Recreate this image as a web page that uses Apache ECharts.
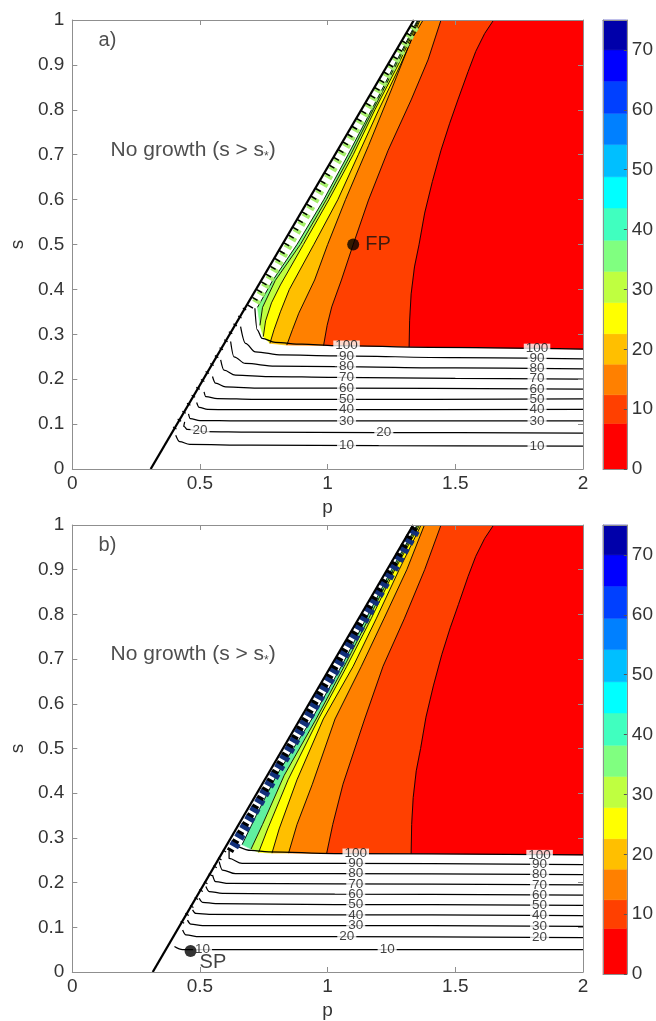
<!DOCTYPE html>
<html>
<head>
<meta charset="utf-8">
<script src="https://cdn.jsdelivr.net/npm/echarts@6.0.0/dist/echarts.min.js"></script>
<style>
html, body { margin: 0; padding: 0; background: #fff; }
#chart { width: 656px; height: 1021px; }
</style>
</head>
<body>
<div id="chart"></div>
<script>
// ---- axis ticks ----
const pTicks = [0, 0.5, 1, 1.5, 2];
const sTicks = [0, 0.1, 0.2, 0.3, 0.4, 0.5, 0.6, 0.7, 0.8, 0.9, 1];
const cbTicks = [0, 10, 20, 30, 40, 50, 60, 70];

// ---- colour scale: band edges and fills (low to high) ----
const cbEdges = [0, 7.6, 12.4, 17.5, 22.6, 27.8, 33, 38.2, 43.6, 48.8, 54.2, 59.4, 64.8, 70, 75];
const cbColors = ['#ff0000', '#ff4000', '#ff8000', '#ffbf00', '#ffff00', '#bfff40', '#80ff80',
                  '#40ffbf', '#00ffff', '#00bfff', '#0080ff', '#0040ff', '#0000ff', '#0000aa'];

// ---- s = s* line (edge of the no-growth region), [p, s] ----
const edgeA = [[0.307, 0], [1.338, 1]];
const edgeB = [[0.315, 0], [1.335, 1]];

// ---- panel a: filled contour boundaries, [p, s] ----
const fringeEdgeA = [[0.676, 0.358], [1.338, 1]];
const lgA  = [[0.725, 0.36], [0.785, 0.42], [0.88, 0.5], [0.985, 0.6], [1.08, 0.7], [1.172, 0.8], [1.262, 0.9], [1.352, 1.0]];
const lygA = [[0.735, 0.32], [0.745, 0.36], [0.795, 0.42], [0.893, 0.5], [0.995, 0.6], [1.09, 0.7], [1.178, 0.8], [1.268, 0.9], [1.355, 1.0]];
const lyA  = [[0.748, 0.295], [0.757, 0.33], [0.78, 0.37], [0.815, 0.41], [0.905, 0.5], [1.005, 0.6], [1.10, 0.7], [1.185, 0.8], [1.276, 0.9], [1.358, 1.0]];
const l20A = [[0.774, 0.28], [0.79, 0.31], [0.815, 0.35], [0.85, 0.40], [0.946, 0.5], [1.04, 0.6], [1.12, 0.7], [1.20, 0.8], [1.285, 0.9], [1.362, 1.0]];
const l15A = [[0.840, 0.276], [0.862, 0.31], [0.887, 0.347], [0.949, 0.421], [1.0, 0.5], [1.07, 0.6], [1.16, 0.72], [1.249, 0.844], [1.327, 0.955], [1.374, 1.0]];
const l10A = [[0.984, 0.275], [0.998, 0.32], [1.016, 0.361], [1.054, 0.421], [1.1, 0.5], [1.16, 0.599], [1.237, 0.71], [1.327, 0.822], [1.393, 0.911], [1.444, 1.0]];
const l5A  = [[1.319, 0.272], [1.321, 0.33], [1.327, 0.39], [1.34, 0.45], [1.358, 0.5], [1.38, 0.57], [1.41, 0.64], [1.444, 0.71], [1.478, 0.77],
              [1.51, 0.822], [1.55, 0.885], [1.58, 0.93], [1.615, 0.97], [1.65, 1.0]];
const rightA = [[2, 0.267], [2, 1]];

// ---- panel b: filled contour boundaries, [p, s] ----
const fringeEdgeB = [[0.600, 0.28], [1.335, 1]];
const lgB  = [[0.665, 0.285], [0.72, 0.35], [0.80, 0.44], [0.938, 0.566], [1.054, 0.684], [1.15, 0.79], [1.25, 0.9], [1.350, 1.0]];
const lygB = [[0.70, 0.275], [0.745, 0.33], [0.83, 0.44], [0.955, 0.566], [1.065, 0.684], [1.16, 0.79], [1.257, 0.9], [1.354, 1.0]];
const lyB  = [[0.730, 0.268], [0.765, 0.32], [0.845, 0.43], [0.964, 0.566], [1.075, 0.684], [1.17, 0.79], [1.263, 0.9], [1.360, 1.0]];
const l20B = [[0.782, 0.266], [0.81, 0.32], [0.88, 0.43], [0.983, 0.566], [1.10, 0.684], [1.19, 0.79], [1.28, 0.9], [1.366, 1.0]];
const l15B = [[0.847, 0.266], [0.88, 0.33], [0.94, 0.42], [1.029, 0.566], [1.132, 0.684], [1.22, 0.79], [1.31, 0.9], [1.379, 1.0]];
const l10B = [[0.996, 0.265], [1.02, 0.33], [1.06, 0.42], [1.145, 0.566], [1.217, 0.684], [1.30, 0.79], [1.38, 0.9], [1.444, 1.0]];
const l5B  = [[1.327, 0.265], [1.329, 0.33], [1.335, 0.39], [1.347, 0.45], [1.364, 0.5], [1.385, 0.57], [1.414, 0.64], [1.447, 0.71], [1.48, 0.77],
              [1.512, 0.822], [1.55, 0.885], [1.58, 0.93], [1.615, 0.97], [1.65, 1.0]];
const rightB = [[2, 0.262], [2, 1]];

// ---- jagged fringe along the s* line ----
const ticksA  = [[0.696, 0.36], [1.350, 1.0]];
const greenA  = [[0.718, 0.37], [1.353, 0.995]];
const ticksB  = [[0.617, 0.27], [1.346, 1.0]];
const blueB   = [[0.632, 0.28], [1.350, 0.995]];
const hookTicksA = [[0.40, 0.09], [0.676, 0.358]];
const hookTicksB = [[0.43, 0.11], [0.605, 0.28]];

// ---- panel a: contour lines below the filled region, [p, s] ----
const c100A = [[0.715, 0.358], [0.724, 0.31], [0.743, 0.291], [0.795, 0.282], [0.899, 0.278], [1.028, 0.275], [1.4, 0.271], [2, 0.267]];
const c90A  = [[0.659, 0.317], [0.678, 0.28], [0.717, 0.261], [0.821, 0.254], [1.028, 0.252], [1.5, 0.248], [2, 0.245]];
const c80A  = [[0.620, 0.284], [0.633, 0.25], [0.678, 0.235], [0.795, 0.229], [1.028, 0.228], [1.5, 0.225], [2, 0.223]];
const c70A  = [[0.581, 0.243], [0.594, 0.22], [0.639, 0.209], [0.769, 0.206], [1.028, 0.204], [1.5, 0.202], [2, 0.2]];
const c60A  = [[0.549, 0.206], [0.561, 0.191], [0.60, 0.183], [0.743, 0.18], [1.028, 0.18], [2, 0.178]];
const c50A  = [[0.516, 0.172], [0.523, 0.161], [0.568, 0.157], [0.717, 0.155], [1.028, 0.155], [2, 0.156]];
const c40A  = [[0.487, 0.148], [0.497, 0.137], [0.53, 0.133], [0.65, 0.132], [1.028, 0.132], [2, 0.133]];
const c30A  = [[0.455, 0.123], [0.462, 0.112], [0.50, 0.108], [0.65, 0.107], [1.028, 0.107], [2, 0.107]];
const c20A  = [[0.44, 0.105], [0.437, 0.095], [0.45, 0.088], [0.52, 0.083], [0.7, 0.082], [1.2, 0.081], [2, 0.08]];
const c10A  = [[0.405, 0.075], [0.42, 0.061], [0.46, 0.055], [0.7, 0.053], [1.2, 0.052], [2, 0.051]];

// ---- panel b: contour lines below the filled region, [p, s] ----
const c100B = [[0.652, 0.28], [0.70, 0.272], [0.769, 0.269], [1.028, 0.265], [2, 0.262]];
const c90B  = [[0.614, 0.272], [0.614, 0.254], [0.665, 0.243], [1.028, 0.243], [2, 0.240]];
const c80B  = [[0.575, 0.247], [0.588, 0.228], [0.639, 0.22], [1.028, 0.22], [2, 0.218]];
const c70B  = [[0.549, 0.217], [0.561, 0.202], [0.614, 0.198], [1.028, 0.197], [2, 0.195]];
const c60B  = [[0.523, 0.191], [0.536, 0.18], [0.588, 0.176], [1.028, 0.174], [2, 0.172]];
const c50B  = [[0.497, 0.165], [0.51, 0.156], [0.561, 0.153], [1.028, 0.151], [2, 0.149]];
const c40B  = [[0.471, 0.139], [0.484, 0.131], [0.536, 0.129], [1.028, 0.128], [2, 0.126]];
const c30B  = [[0.451, 0.116], [0.464, 0.107], [0.51, 0.104], [1.028, 0.104], [2, 0.102]];
const c20B  = [[0.432, 0.094], [0.445, 0.083], [0.497, 0.079], [1.028, 0.079], [2, 0.077]];
const c10B  = [[0.40, 0.057], [0.432, 0.05], [0.484, 0.05], [1.028, 0.05], [2, 0.05]];

// ---- inline contour labels, [p, s, text] ----
const labelsA = [
  [1.074, 0.275, '100'], [1.074, 0.252, '90'], [1.074, 0.228, '80'], [1.074, 0.204, '70'],
  [1.074, 0.180, '60'], [1.074, 0.155, '50'], [1.074, 0.132, '40'], [1.074, 0.107, '30'],
  [1.074, 0.053, '10'], [0.50, 0.087, '20'], [1.22, 0.081, '20'],
  [1.82, 0.268, '100'], [1.82, 0.246, '90'], [1.82, 0.224, '80'], [1.82, 0.201, '70'],
  [1.82, 0.178, '60'], [1.82, 0.156, '50'], [1.82, 0.133, '40'], [1.82, 0.107, '30'],
  [1.82, 0.051, '10']
];
const labelsB = [
  [1.11, 0.265, '100'], [1.11, 0.243, '90'], [1.11, 0.220, '80'], [1.11, 0.197, '70'],
  [1.11, 0.174, '60'], [1.11, 0.151, '50'], [1.11, 0.128, '40'], [1.11, 0.104, '30'],
  [1.075, 0.079, '20'], [0.51, 0.050, '10'], [1.233, 0.050, '10'],
  [1.83, 0.262, '100'], [1.83, 0.240, '90'], [1.83, 0.218, '80'], [1.83, 0.195, '70'],
  [1.83, 0.172, '60'], [1.83, 0.149, '50'], [1.83, 0.126, '40'], [1.83, 0.102, '30'],
  [1.83, 0.077, '20']
];

// ---- annotations ----
const panelTags = [[0.101, 0.955, 'a)'], [0.101, 0.955, 'b)']];
const noGrowth = [[0.148, 0.71], [0.148, 0.71]];
const fixedPoint = [1.1, 0.5];
const stablePoint = [0.463, 0.047];

const FONT = 'Liberation Sans, Arial, Helvetica, sans-serif';
const AXIS_GREY = '#8f8f8f';
const TEXT_COL = '#333';
const TICK_FONT = 19;

const chart = echarts.init(document.getElementById('chart'), null, { renderer: 'canvas' });

const grids = [
  { left: 69, top: 20, width: 514, height: 449 },
  { left: 69, top: 525, width: 514, height: 449 },
  { left: 603, top: 20, width: 26, height: 449 },
  { left: 603, top: 525, width: 26, height: 449 }
];

function frameAxis(extra) {
  return Object.assign({
    type: 'value',
    splitLine: { show: false },
    axisLine: { show: true, onZero: false, lineStyle: { color: AXIS_GREY, width: 1 } },
    axisTick: { show: true, inside: true, length: 5, lineStyle: { color: AXIS_GREY } },
    axisLabel: { show: false },
    z: 10
  }, extra);
}

const xAxes = [];
const yAxes = [];
[0, 1].forEach(g => {
  xAxes.push(frameAxis({
    gridIndex: g, position: 'bottom', min: pTicks[0], max: pTicks[pTicks.length - 1], interval: pTicks[1] - pTicks[0],
    axisLabel: { show: true, fontSize: TICK_FONT, color: TEXT_COL, margin: 5, fontFamily: FONT },
    name: 'p', nameLocation: 'middle', nameGap: 29,
    nameTextStyle: { fontSize: TICK_FONT, color: TEXT_COL, fontFamily: FONT }
  }));
  xAxes.push(frameAxis({
    gridIndex: g, position: 'top', min: pTicks[0], max: pTicks[pTicks.length - 1], interval: pTicks[1] - pTicks[0]
  }));
  yAxes.push(frameAxis({
    gridIndex: g, position: 'left', min: sTicks[0], max: sTicks[sTicks.length - 1], interval: sTicks[1] - sTicks[0],
    axisLabel: { show: true, fontSize: TICK_FONT, color: TEXT_COL, margin: 8, fontFamily: FONT },
    name: 's', nameLocation: 'middle', nameGap: 41, nameRotate: 90,
    nameTextStyle: { fontSize: TICK_FONT, color: TEXT_COL, fontFamily: FONT }
  }));
  yAxes.push(frameAxis({
    gridIndex: g, position: 'right', min: sTicks[0], max: sTicks[sTicks.length - 1], interval: sTicks[1] - sTicks[0]
  }));
});
// colour bar axes
[2, 3].forEach(g => {
  xAxes.push(frameAxis({ gridIndex: g, min: 0, max: 1, axisTick: { show: false }, axisLine: { show: false } }));
  yAxes.push(frameAxis({
    gridIndex: g, position: 'right', min: cbTicks[0], max: cbEdges[cbEdges.length - 1], interval: cbTicks[1] - cbTicks[0],
    axisTick: { show: true, inside: true, length: 3, lineStyle: { color: '#555' } },
    axisLabel: { show: true, showMaxLabel: false, fontSize: TICK_FONT, color: TEXT_COL, margin: 5, fontFamily: FONT }
  }));
  yAxes.push(frameAxis({
    gridIndex: g, position: 'left', min: cbTicks[0], max: cbEdges[cbEdges.length - 1], interval: cbTicks[1] - cbTicks[0],
    axisTick: { show: false }
  }));
});
// top/bottom frame of the colour bars
[2, 3].forEach(g => {
  xAxes.push(frameAxis({ gridIndex: g, position: 'top', min: 0, max: 1, axisTick: { show: false } }));
  xAxes.push(frameAxis({ gridIndex: g, position: 'bottom', min: 0, max: 1, axisTick: { show: false } }));
});
// axis index map: panel a x0/y0, panel b x2/y2, bar a x4/y4, bar b x5/y6

function bandSeries(bands, xi, yi) {
  return {
    type: 'custom', xAxisIndex: xi, yAxisIndex: yi, clip: true, silent: true, z: 1, animation: false,
    data: bands.map((b, i) => [i]),
    renderItem: (params, api) => {
      const b = bands[params.dataIndex];
      const pts = b.left.map(q => api.coord(q)).concat(b.right.slice().reverse().map(q => api.coord(q)));
      return { type: 'polygon', shape: { points: pts }, style: { fill: b.color, stroke: b.color, lineWidth: 0.6 } };
    }
  };
}

function line(pts, xi, yi, style, extra) {
  return Object.assign({
    type: 'line', xAxisIndex: xi, yAxisIndex: yi, data: pts, symbol: 'none', silent: true, animation: false,
    clip: true, z: 3, lineStyle: Object.assign({ color: '#000', width: 0.8 }, style)
  }, extra || {});
}

function labelSeries(labels, xi, yi) {
  return {
    type: 'scatter', xAxisIndex: xi, yAxisIndex: yi, silent: true, animation: false, z: 6,
    symbolSize: 1, itemStyle: { color: 'rgba(0,0,0,0)' },
    data: labels.map(l => ({ value: [l[0], l[1]], name: l[2] })),
    label: {
      show: true, position: 'inside', formatter: '{b}', fontSize: 13.5, color: '#111', fontFamily: FONT,
      backgroundColor: '#fff', padding: [0, 2, 0, 2], lineHeight: 10
    }
  };
}

function textSeries(pos, text, xi, yi, extraLabel) {
  return {
    type: 'scatter', xAxisIndex: xi, yAxisIndex: yi, silent: true, animation: false, z: 7,
    symbolSize: 1, itemStyle: { color: 'rgba(0,0,0,0)' },
    data: [{ value: pos, name: text }],
    label: Object.assign({
      show: true, position: 'right', distance: 0, formatter: '{b}', fontSize: 20, color: '#222', fontFamily: FONT
    }, extraLabel || {})
  };
}

function noGrowthSeries(pos, xi, yi) {
  return textSeries(pos, '', xi, yi, {
    formatter: '{t|No growth (s > s}{u|*}{t|)}',
    rich: {
      t: { fontSize: 21, color: '#222', fontFamily: FONT },
      u: { fontSize: 12, color: '#222', fontFamily: FONT, padding: [13, 0, 0, 0] }
    }
  });
}

function pointSeries(pos, text, xi, yi, labelOpts) {
  return {
    type: 'scatter', xAxisIndex: xi, yAxisIndex: yi, silent: true, animation: false, z: 8,
    symbol: 'circle', symbolSize: 12, itemStyle: { color: '#000' },
    data: [{ value: pos, name: text }],
    label: Object.assign({ show: true, formatter: '{b}', fontSize: 20, color: '#111', fontFamily: FONT }, labelOpts)
  };
}

function panel(def, xi, yi) {
  const out = [];
  out.push(bandSeries([
    { left: def.fringeEdge, right: def.lg, color: '#ffffff' },
    { left: def.lg, right: def.lyg, color: def.greenCol },
    { left: def.lyg, right: def.ly, color: '#bfff40' },
    { left: def.ly, right: def.l20, color: '#ffff00' },
    { left: def.l20, right: def.l15, color: '#ffbf00' },
    { left: def.l15, right: def.l10, color: '#ff8000' },
    { left: def.l10, right: def.l5, color: '#ff4000' },
    { left: def.l5, right: def.right, color: '#ff0000' }
  ], xi, yi));
  [def.lg, def.lyg, def.ly, def.l20, def.l15, def.l10, def.l5].forEach(l => out.push(line(l, xi, yi, { width: 0.9 })));
  def.fringeDeco.forEach(d => out.push(line(d.pts, xi, yi, d.style, { z: 4 })));
  def.contours.forEach(c => out.push(line(c, xi, yi, { width: 1.25 }, { smooth: 0.35, smoothMonotone: 'x' })));
  out.push(line(def.edge, xi, yi, { width: 2.3 }, { z: 5 }));
  out.push(labelSeries(def.labels, xi, yi));
  return out;
}

const series = [];
series.push(...panel({
  edge: edgeA, fringeEdge: fringeEdgeA, lg: lgA, lyg: lygA, ly: lyA, l20: l20A, l15: l15A, l10: l10A, l5: l5A, right: rightA,
  greenCol: '#80ff80',
  fringeDeco: [
    { pts: greenA, style: { color: '#a6ef6a', width: 8, type: [4, 5] } },
    { pts: ticksA, style: { color: '#000', width: 6, type: [1.5, 7.5] } },
    { pts: hookTicksA, style: { color: '#000', width: 4, type: [1.2, 8] } }
  ],
  contours: [c100A, c90A, c80A, c70A, c60A, c50A, c40A, c30A, c20A, c10A],
  labels: labelsA
}, 0, 0));
series.push(...panel({
  edge: edgeB, fringeEdge: fringeEdgeB, lg: lgB, lyg: lygB, ly: lyB, l20: l20B, l15: l15B, l10: l10B, l5: l5B, right: rightB,
  greenCol: '#60f0a0',
  fringeDeco: [
    { pts: blueB, style: { color: '#12307a', width: 10, type: [5, 5] } },
    { pts: ticksB, style: { color: '#000', width: 7, type: [3, 7] } },
    { pts: hookTicksB, style: { color: '#000', width: 4, type: [1.2, 8] } }
  ],
  contours: [c100B, c90B, c80B, c70B, c60B, c50B, c40B, c30B, c20B, c10B],
  labels: labelsB
}, 2, 2));

// annotations
series.push(textSeries(panelTags[0].slice(0, 2), panelTags[0][2], 0, 0));
series.push(textSeries(panelTags[1].slice(0, 2), panelTags[1][2], 2, 2));
series.push(noGrowthSeries(noGrowth[0], 0, 0));
series.push(noGrowthSeries(noGrowth[1], 2, 2));
series.push(pointSeries(fixedPoint, 'FP', 0, 0, { position: 'right', distance: 6 }));
series.push(pointSeries(stablePoint, 'SP', 2, 2, { position: 'right', distance: 3, offset: [0, 11] }));

// colour bars
function colourBar(xi, yi) {
  return {
    type: 'custom', xAxisIndex: xi, yAxisIndex: yi, silent: true, animation: false, z: 1,
    data: cbColors.map((c, i) => [i]),
    renderItem: (params, api) => {
      const i = params.dataIndex;
      const a = api.coord([0, cbEdges[i + 1]]);
      const b = api.coord([1, cbEdges[i]]);
      return { type: 'rect', shape: { x: a[0], y: a[1], width: b[0] - a[0], height: b[1] - a[1] },
               style: { fill: cbColors[i], stroke: cbColors[i], lineWidth: 0.5 } };
    }
  };
}
series.push(colourBar(4, 4));
series.push(colourBar(5, 6));

chart.setOption({
  animation: false,
  textStyle: { fontFamily: FONT },
  grid: grids,
  xAxis: xAxes,
  yAxis: yAxes,
  series: series
});
</script>
</body>
</html>
